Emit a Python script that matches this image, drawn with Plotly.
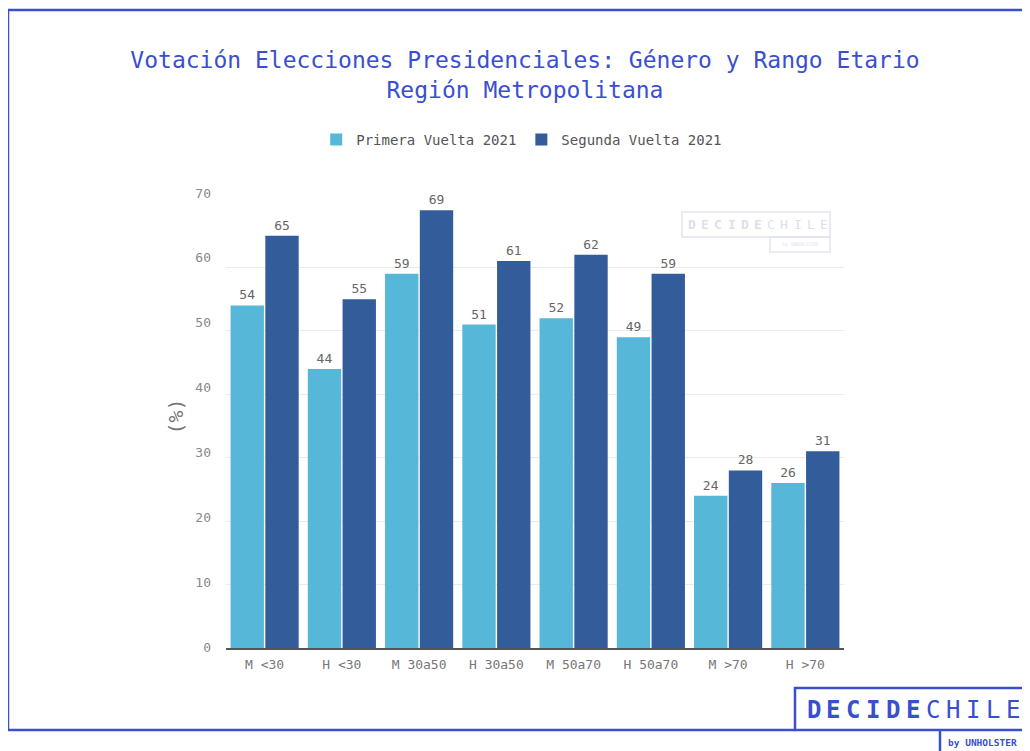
import plotly.graph_objects as go

categories = ["M <30", "H <30", "M 30a50", "H 30a50", "M 50a70", "H 50a70", "M >70", "H >70"]
primera = [54, 44, 59, 51, 52, 49, 24, 26]
segunda = [65, 55, 69, 61, 62, 59, 28, 31]
series_names = ["Primera Vuelta 2021", "Segunda Vuelta 2021"]
tick_vals = [0, 10, 20, 30, 40, 50, 60, 70]

OFF = 8  # browser body margin
W, H = 1030 - OFF, 751 - OFF
# plot area in screen pixels (top extended for the label axis)
SL, SR, ST, SB = 226, 844, 185, 648
BAR_TOP = 204  # screen y of value 70 on the bar axis
L, R, T, B = SL - OFF, SR - OFF, ST - OFF, SB - OFF


def px(x):
    return (x - OFF - L) / (R - L)


def py(y):
    return (B - (y - OFF)) / (B - T)


FONT = "DejaVu Sans Mono"
BLUE = "#3a4fd0"

fig = go.Figure()
fig.add_trace(go.Bar(
    x=categories, y=primera, name=series_names[0],
    marker=dict(color="#56b7d8", line=dict(width=0)),
    text=primera, textposition="outside", cliponaxis=False,
    textfont=dict(family=FONT, size=13, color="#666666"),
))
fig.add_trace(go.Bar(
    x=categories, y=segunda, name=series_names[1],
    marker=dict(color="#335c9a", line=dict(width=0)),
    text=segunda, textposition="outside", cliponaxis=False,
    textfont=dict(family=FONT, size=13, color="#666666"),
))
# invisible trace carrying the tick-label axis
fig.add_trace(go.Scatter(
    x=[categories[0]], y=[0], yaxis="y2", mode="markers",
    marker=dict(opacity=0), showlegend=False, hoverinfo="skip",
))

shapes = [
    dict(type="line", xref="paper", yref="paper", x0=px(8), x1=px(1040), y0=py(10), y1=py(10),
         line=dict(color=BLUE, width=2.5)),
    dict(type="line", xref="paper", yref="paper", x0=px(8), x1=px(8), y0=py(10), y1=py(730),
         line=dict(color=BLUE, width=2.5)),
    dict(type="line", xref="paper", yref="paper", x0=px(8), x1=px(795), y0=py(730), y1=py(730),
         line=dict(color=BLUE, width=2.5)),
    dict(type="rect", xref="paper", yref="paper", x0=px(795), x1=px(1045), y0=py(688), y1=py(730),
         line=dict(color=BLUE, width=2.5), fillcolor="white"),
    dict(type="line", xref="paper", yref="paper", x0=px(940), x1=px(940), y0=py(730), y1=py(760),
         line=dict(color=BLUE, width=2.5)),
    dict(type="rect", xref="paper", yref="paper", x0=px(682), x1=px(830), y0=py(212), y1=py(237),
         line=dict(color="#e2e4f1", width=1.5), layer="below"),
    dict(type="rect", xref="paper", yref="paper", x0=px(770), x1=px(830), y0=py(237), y1=py(252),
         line=dict(color="#e2e4f1", width=1.5), layer="below"),
]

annotations = []
logo = "DECIDECHILE"
for i, ch in enumerate(logo):
    bold = i < 6
    t = f"<b>{ch}</b>" if bold else ch
    annotations.append(dict(
        text=t, xref="paper", yref="paper",
        x=px(813.5 + 19.9 * i), y=py(710), showarrow=False, xanchor="center", yanchor="middle",
        font=dict(family=FONT, size=24, color=BLUE)))
    annotations.append(dict(
        text=t, xref="paper", yref="paper",
        x=px(692 + 13.2 * i), y=py(225), showarrow=False, xanchor="center", yanchor="middle",
        font=dict(family=FONT, size=13, color="#dcdfee")))
annotations.append(dict(text="<b>by UNHOLSTER</b>", xref="paper", yref="paper", x=px(946), y=py(742),
                        xanchor="left", yanchor="middle",
                        showarrow=False, font=dict(family=FONT, size=9.5, color=BLUE)))
annotations.append(dict(text="by UNHOLSTER", xref="paper", yref="paper", x=px(800), y=py(244.5),
                        xanchor="center", yanchor="middle",
                        showarrow=False, font=dict(family=FONT, size=5, color="#e2e4f1")))

bar_dom_top = (SB - BAR_TOP) / (SB - ST)
label_px_per_unit = (647 - 193) / 70.0
y2_lo = -(SB - 647) / label_px_per_unit
y2_hi = (647 - ST) / label_px_per_unit

fig.update_layout(
    width=W, height=H,
    margin=dict(l=L, r=W - R, t=T, b=H - B),
    paper_bgcolor="white", plot_bgcolor="rgba(0,0,0,0)",
    title=dict(
        text="Votación Elecciones Presidenciales: Género y Rango Etario<br>Región Metropolitana",
        x=(525 - OFF) / W, xanchor="center", y=1 - (68 - OFF) / H, yanchor="middle",
        font=dict(family=FONT, size=23, color=BLUE),
    ),
    barmode="group", bargap=0.1, bargroupgap=0.04,
    legend=dict(orientation="h", x=(497 - OFF) / W, xanchor="center", y=1 - (140 - OFF) / H,
                yanchor="middle", yref="container",
                font=dict(family=FONT, size=14, color="#555555"),
                traceorder="normal"),
    font=dict(family=FONT),
    shapes=shapes, annotations=annotations,
    yaxis=dict(
        domain=[0, bar_dom_top], range=[0, 70], tickvals=tick_vals, showgrid=True,
        gridcolor="#ebebeb", gridwidth=1, zeroline=False, showline=False, ticks="",
        showticklabels=False,
    ),
    yaxis2=dict(
        domain=[0, 1], anchor="x", side="left", range=[y2_lo, y2_hi], tickvals=tick_vals,
        showgrid=False, zeroline=False, showline=False, ticks="", ticklabelstandoff=14,
        tickfont=dict(family=FONT, size=13, color="#8a8a8a"),
        title=dict(text="(%)", font=dict(family=FONT, size=20, color="#777777"), standoff=6),
    ),
)
fig.update_xaxes(
    showline=True, linecolor="#555555", linewidth=1.5, ticks="", showgrid=False,
    tickfont=dict(family=FONT, size=13, color="#777777"), ticklabelstandoff=4,
)

fig.write_html("out.html")
